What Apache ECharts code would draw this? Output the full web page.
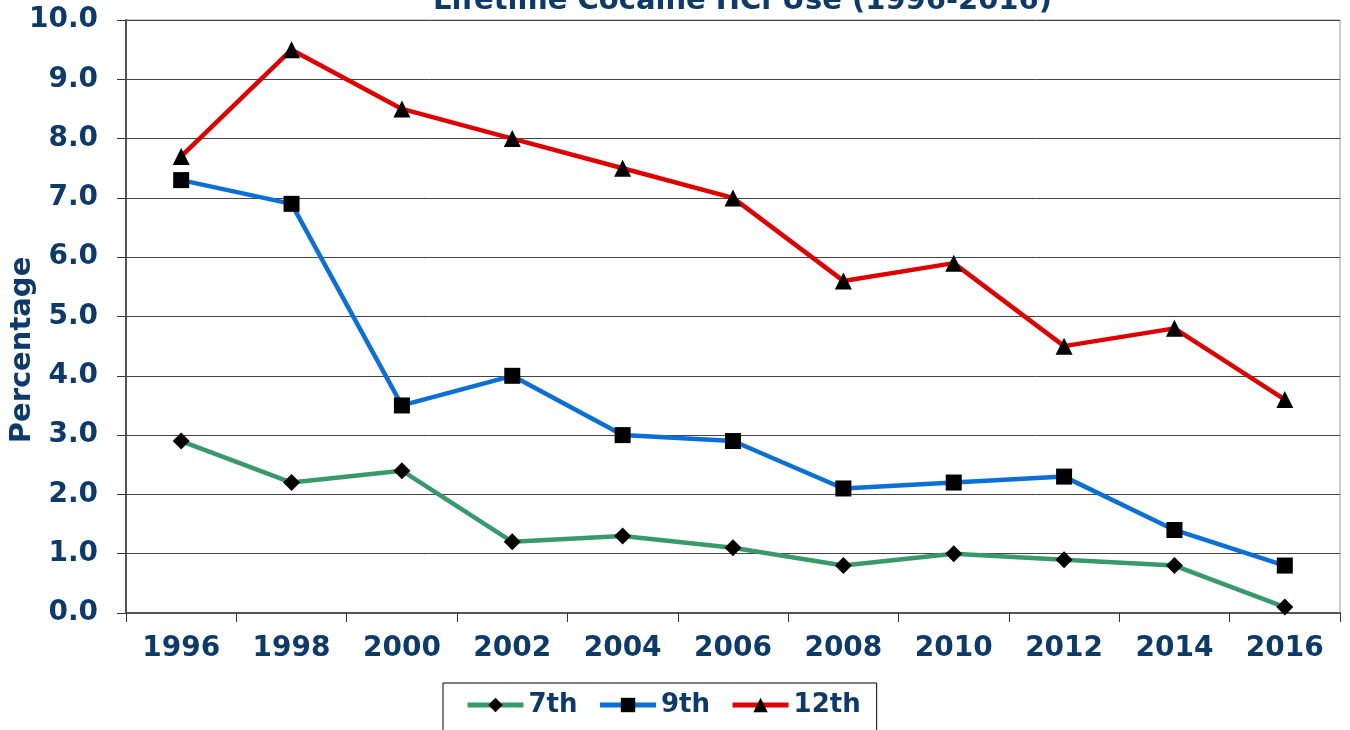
<!DOCTYPE html>
<html>
<head>
<meta charset="utf-8">
<script src="https://cdn.jsdelivr.net/npm/echarts@6/dist/echarts.min.js"></script>
<style>
  html, body { margin: 0; padding: 0; background: #fff; }
  #chart { width: 1350px; height: 730px; }
</style>
</head>
<body>
<div id="chart"></div>
<script>
// Lifetime cocaine HCl use chart

var years = ["1996", "1998", "2000", "2002", "2004", "2006", "2008", "2010", "2012", "2014", "2016"];
var grade7 = [2.9, 2.2, 2.4, 1.2, 1.3, 1.1, 0.8, 1.0, 0.9, 0.8, 0.1];
var grade9 = [7.3, 6.9, 3.5, 4.0, 3.0, 2.9, 2.1, 2.2, 2.3, 1.4, 0.8];
var grade12 = [7.7, 9.5, 8.5, 8.0, 7.5, 7.0, 5.6, 5.9, 4.5, 4.8, 3.6];

var navy = "#0b3a6b";
var font = "DejaVu Sans";

var dom = document.getElementById("chart");
var myChart = echarts.init(dom);

var option = {
  animation: false,
  textStyle: { fontFamily: font },
  title: {
    text: "Lifetime Cocaine HCl Use (1996-2016)",
    left: 428,
    top: -18,
    textStyle: { color: navy, fontSize: 29, fontWeight: "bold", fontFamily: font },
  },
  // y axis title, placed by hand so it sits where the original has it
  graphic: [
    {
      type: "text",
      x: 22,
      y: 350,
      rotation: Math.PI / 2,
      style: {
        text: "Percentage",
        fill: navy,
        font: "bold 29px 'DejaVu Sans'",
        textAlign: "center",
        textVerticalAlign: "middle",
      },
    },
  ],
  legend: {
    left: 443,
    top: 683,
    width: 435,
    padding: [9, 16, 30, 22],
    itemGap: 20,
    itemWidth: 56,
    itemHeight: 18,
    borderColor: "#000",
    borderWidth: 1,
    lineStyle: { width: 5 },
    data: ["7th", "9th", "12th"],
    textStyle: { color: navy, fontSize: 26, fontWeight: "bold", fontFamily: font },
  },
  grid: {
    left: 126,
    right: 10,
    top: 20,
    bottom: 117,
    containLabel: false,
    outerBoundsMode: "none",
    show: true,
    borderColor: "#999",
    borderWidth: 1,
  },
  xAxis: {
    type: "category",
    data: years,
    boundaryGap: true,
    axisLine: { lineStyle: { color: "#555", width: 2 } },
    axisTick: { show: true, length: 9, lineStyle: { color: "#333" } },
    axisLabel: { color: navy, fontSize: 28, fontWeight: "bold", margin: 22, fontFamily: font },
  },
  yAxis: {
    type: "value",
    min: 0,
    max: 10,
    interval: 1,
    axisLine: { show: true, lineStyle: { color: "#555", width: 2 } },
    axisTick: { show: true, inside: false, length: 9, lineStyle: { color: "#333" } },
    splitLine: { lineStyle: { color: "#444", width: 1 } },
    axisLabel: {
      color: navy,
      fontSize: 28,
      fontWeight: "bold",
      margin: 28,
      fontFamily: font,
      formatter: function (v) { return v.toFixed(1); },
    },
  },
  series: [
    {
      name: "7th",
      type: "line",
      data: grade7,
      symbol: "diamond",
      symbolSize: 17,
      lineStyle: { color: "#38996b", width: 4.5 },
      itemStyle: { color: "#000" },
      color: "#38996b",
    },
    {
      name: "9th",
      type: "line",
      data: grade9,
      symbol: "rect",
      symbolSize: 16,
      lineStyle: { color: "#0a6fd6", width: 4.5 },
      itemStyle: { color: "#000" },
      color: "#0a6fd6",
    },
    {
      name: "12th",
      type: "line",
      data: grade12,
      symbol: "triangle",
      symbolSize: 17,
      lineStyle: { color: "#e00000", width: 4.5 },
      itemStyle: { color: "#000" },
      color: "#e00000",
    },
  ],
};

if (option && typeof option === "object") {
  myChart.setOption(option);
}
</script>
</body>
</html>
